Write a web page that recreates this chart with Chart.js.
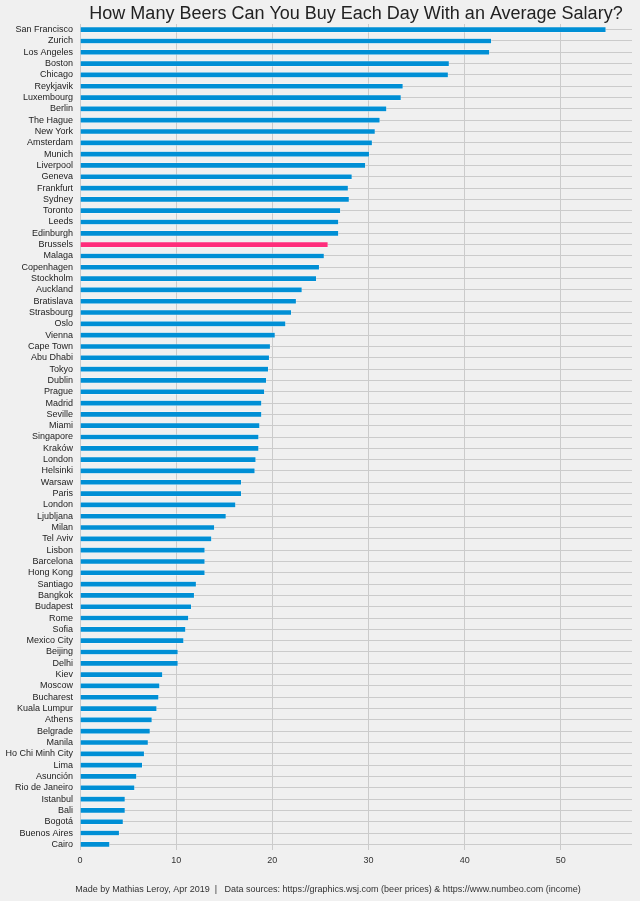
<!DOCTYPE html>
<html>
<head>
<meta charset="utf-8">
<script src="https://cdn.jsdelivr.net/npm/chart.js@4/dist/chart.umd.min.js"></script>
<style>
  html, body { margin: 0; padding: 0; background: #f0f0f0; }
  #wrap { width: 640px; height: 901px; }
</style>
</head>
<body>
<div id="wrap"><canvas id="beerChart" width="640" height="901"></canvas></div>
<script>
// 都市名（上から順）
const cities = [
  'San Francisco', 'Zurich', 'Los Angeles', 'Boston', 'Chicago', 'Reykjavik', 'Luxembourg',
  'Berlin', 'The Hague', 'New York', 'Amsterdam', 'Munich', 'Liverpool', 'Geneva',
  'Frankfurt', 'Sydney', 'Toronto', 'Leeds', 'Edinburgh', 'Brussels', 'Malaga',
  'Copenhagen', 'Stockholm', 'Auckland', 'Bratislava', 'Strasbourg', 'Oslo', 'Vienna',
  'Cape Town', 'Abu Dhabi', 'Tokyo', 'Dublin', 'Prague', 'Madrid', 'Seville', 'Miami',
  'Singapore', 'Kraków', 'London', 'Helsinki', 'Warsaw', 'Paris', 'London', 'Ljubljana',
  'Milan', 'Tel Aviv', 'Lisbon', 'Barcelona', 'Hong Kong', 'Santiago', 'Bangkok',
  'Budapest', 'Rome', 'Sofia', 'Mexico City', 'Beijing', 'Delhi', 'Kiev', 'Moscow',
  'Bucharest', 'Kuala Lumpur', 'Athens', 'Belgrade', 'Manila', 'Ho Chi Minh City', 'Lima',
  'Asunción', 'Rio de Janeiro', 'Istanbul', 'Bali', 'Bogotá', 'Buenos Aires', 'Cairo'
];

// 1日に買えるビールの本数
const beersPerDay = [
  54.7, 42.8, 42.6, 38.4, 38.3, 33.6, 33.4,
  31.9, 31.2, 30.7, 30.4, 30.1, 29.7, 28.3,
  27.9, 28.0, 27.1, 26.9, 26.9, 25.8, 25.4,
  24.9, 24.6, 23.1, 22.5, 22.0, 21.4, 20.3,
  19.8, 19.7, 19.6, 19.4, 19.2, 18.9, 18.9, 18.7,
  18.6, 18.6, 18.3, 18.2, 16.8, 16.8, 16.2, 15.2,
  14.0, 13.7, 13.0, 13.0, 13.0, 12.1, 11.9,
  11.6, 11.3, 11.0, 10.8, 10.2, 10.2, 8.6, 8.3,
  8.2, 8.0, 7.5, 7.3, 7.1, 6.7, 6.5,
  5.9, 5.7, 4.7, 4.7, 4.5, 4.1, 3.1
];

// X軸の目盛り
const xTicks = [0, 10, 20, 30, 40, 50];

const highlightCity = 'Brussels';
const barColors = cities.map(c => c === highlightCity ? '#ff2d7b' : '#008fd5');

const titleText = 'How Many Beers Can You Buy Each Day With an Average Salary?';
const footerText = 'Made by Mathias Leroy, Apr 2019  |   Data sources: https://graphics.wsj.com (beer prices) & https://www.numbeo.com (income)';
const fontFamily = '"Liberation Sans", Arial, sans-serif';

// タイトルとフッターを描く（プロット領域の中央に合わせる）
const textPlugin = {
  id: 'textPlugin',
  afterDraw(chart) {
    const { ctx, chartArea } = chart;
    const cx = (chartArea.left + chartArea.right) / 2;
    ctx.save();
    ctx.textAlign = 'center';
    ctx.textBaseline = 'alphabetic';
    ctx.fillStyle = '#222222';
    ctx.font = '18px ' + fontFamily;
    ctx.fillText(titleText, cx, 19);
    ctx.fillStyle = '#333333';
    ctx.font = '9px ' + fontFamily;
    ctx.fillText(footerText, 328, 892);
    ctx.restore();
  }
};

const bgPlugin = {
  id: 'bgPlugin',
  beforeDraw(chart) {
    const ctx = chart.ctx;
    ctx.save();
    ctx.fillStyle = '#f0f0f0';
    ctx.fillRect(0, 0, chart.width, chart.height);
    ctx.restore();
  }
};

const ctx = document.getElementById('beerChart').getContext('2d');
new Chart(ctx, {
  type: 'bar',
  data: {
    labels: cities,
    datasets: [{
      data: beersPerDay,
      backgroundColor: barColors,
      borderColor: '#ffffff',
      borderWidth: 0.5,
      barPercentage: 0.5,
      categoryPercentage: 1.0
    }]
  },
  options: {
    indexAxis: 'y',
    responsive: false,
    animation: false,
    layout: { padding: { top: 24, right: 8, bottom: 0, left: 0 } },
    plugins: {
      legend: { display: false },
      tooltip: { enabled: false },
      title: { display: false }
    },
    scales: {
      x: {
        min: 0,
        max: 57.4,
        afterFit(scale) { scale.height = 51; },
        afterBuildTicks(scale) { scale.ticks = xTicks.map(v => ({ value: v })); },
        ticks: {
          padding: 5,
          color: '#333333',
          font: { family: fontFamily, size: 9 }
        },
        grid: { color: '#cbcbcb', lineWidth: 1, drawTicks: false },
        border: { display: false }
      },
      y: {
        afterFit(scale) { scale.width = 80; },
        ticks: {
          autoSkip: false,
          padding: 7,
          color: '#222222',
          font: { family: fontFamily, size: 9 }
        },
        grid: { color: '#cbcbcb', lineWidth: 1, drawTicks: false, offset: false },
        border: { display: false }
      }
    }
  },
  plugins: [bgPlugin, textPlugin]
});
</script>
</body>
</html>
